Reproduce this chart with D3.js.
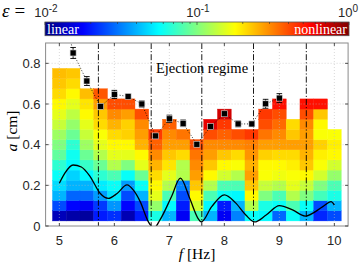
<!DOCTYPE html>
<html><head><meta charset="utf-8">
<script src="https://cdn.jsdelivr.net/npm/d3@7"></script>
<style>body{margin:0;background:#fff}svg{display:block}</style>
</head><body><svg id="c" width="359" height="269"></svg>
<script>
// ---- data ----
const freqs = [5,5.25,5.5,5.75,6,6.25,6.5,6.75,7,7.25,7.5,7.75,8,8.25,8.5,8.75,9,9.25,9.5,9.75,10];
const ampRows = [0.05,0.1,0.15,0.2,0.25,0.3,0.35,0.4,0.45,0.5,0.55,0.6,0.65,0.7,0.75];
// epsilon per column (bottom row upward)
const epsilon = [
 [0.013,0.025,0.04,0.048,0.058,0.069,0.087,0.1,0.115,0.138,0.158,0.182,0.209,0.229,0.24],
 [0.012,0.018,0.028,0.04,0.046,0.055,0.06,0.069,0.091,0.11,0.132,0.158,0.182,0.209,0.229],
 [0.0115,0.017,0.028,0.04,0.055,0.072,0.091,0.115,0.138,0.158,0.182,0.2,0.24],
 [0.02,0.023,0.036,0.052,0.069,0.091,0.126,0.158,0.174,0.209,0.229,0.275,0.38],
 [0.022,0.035,0.05,0.058,0.079,0.126,0.158,0.182,0.209,0.251,0.302,0.398],
 [0.0126,0.018,0.025,0.036,0.058,0.1,0.158,0.182,0.219,0.219,0.275,0.398],
 [0.02,0.025,0.04,0.058,0.091,0.158,0.182,0.251,0.275,0.302,0.398],
 [0.063,0.11,0.158,0.182,0.209,0.251,0.302,0.363,0.437],
 [0.04,0.055,0.079,0.126,0.158,0.2,0.229,0.275,0.302,0.363],
 [0.017,0.02,0.025,0.032,0.126,0.126,0.209,0.275,0.331],
 [0.079,0.145,0.182,0.229,0.275,0.302,0.331,0.398],
 [0.04,0.055,0.079,0.126,0.182,0.229,0.275,0.302,0.398,0.63],
 [0.017,0.02,0.058,0.079,0.145,0.182,0.229,0.302,0.363,0.437,0.692],
 [0.032,0.04,0.055,0.079,0.126,0.174,0.209,0.302,0.398],
 [0.058,0.126,0.182,0.229,0.275,0.251,0.288,0.316,0.437],
 [0.055,0.063,0.1,0.138,0.174,0.182,0.219,0.275,0.331,0.398,0.437],
 [0.028,0.058,0.079,0.126,0.166,0.182,0.209,0.275,0.302,0.347,0.398,0.525],
 [0.058,0.079,0.126,0.158,0.174,0.19,0.209,0.275,0.229,0.209],
 [0.04,0.058,0.1,0.138,0.182,0.229,0.251,0.275,0.275,0.302,0.398,0.525],
 [0.021,0.025,0.076,0.1,0.145,0.174,0.19,0.219,0.174,0.182,0.229,0.525],
 [0.025,0.04,0.063,0.079,0.11,0.145,0.182,0.19,0.174]
];
// measured points with error bars
const measF = [5.0,5.25,5.5,5.75,6,6.25,6.5,6.75,7,7.25,7.5,7.75,8,8.25,8.5,8.75,9];
const measA = [1.19,0.851,0.713,0.588,0.647,0.637,0.6,0.443,0.527,0.505,0.402,0.489,0.552,0.502,0.502,0.601,0.629];
const measErr = [0,0.027,0.022,0.01,0.02,0.01,0.015,0.008,0.018,0.016,0.008,0.01,0.01,0.014,0.012,0.022,0.022];
// solid theoretical curve
const curveF = [5.0,5.1,5.25,5.4,5.56,5.74,5.89,6.05,6.23,6.35,6.47,6.62,6.72,6.83,7.04,7.2,7.37,7.52,7.58,7.77,8.0,8.2,8.39,8.55,8.76,9.0,9.24,9.47,9.79,9.94,10.0];
const curveA = [0.21,0.26,0.3,0.29,0.243,0.161,0.136,0.16,0.202,0.175,0.12,0.02,-0.01,0.03,0.145,0.235,0.136,0.038,0.02,0.095,0.153,0.115,0.054,0.02,0.054,0.1,0.079,0.049,0.095,0.12,0.103];
// dash-dot regime boundaries
const boundF = [5.71,6.67,7.59,8.53,9.49];
const xTicks = [5,6,7,8,9,10];
const yTicks = [0,0.2,0.4,0.6,0.8];
const yTickLabels = ["0","0.2","0.4","0.6","0.8"];
const cbTicks = [0.01,0.1,1];
const cbTickExp = ["-2","-1","0"];

// ---- drawing ----
const svg = d3.select("#c");
svg.append("rect").attr("width",359).attr("height",269).attr("fill","#fff");
const L=45.6,R=348.1,T=43,B=226;
const x = d3.scaleLinear().domain([4.75,10.25]).range([L,R]);
const y = d3.scaleLinear().domain([0,0.9]).range([B,T]);
function jet(t){
  const c=v=>Math.max(0,Math.min(1,v));
  const r=c(1.5-Math.abs(4*t-3)), g=c(1.5-Math.abs(4*t-2)), b=c(1.5-Math.abs(4*t-1));
  return d3.rgb(r*255,g*255,b*255).formatHex();
}
const epsT = d3.scaleLog().domain([0.01,1]).range([0,1]).clamp(true);
const sans = "'Liberation Sans', Arial, Helvetica, sans-serif";
const serif = "'Liberation Serif', 'Times New Roman', serif";
const axCol = "#262626";

const defs = svg.append("defs");
defs.append("clipPath").attr("id","clip").append("rect")
  .attr("x",L).attr("y",T).attr("width",R-L).attr("height",B-T);

// heatmap
const cells=[];
freqs.forEach((f,i)=>epsilon[i].forEach((e,j)=>cells.push({f,a:ampRows[j],e})));
const hw = (x(0.25)-x(0)), hh = (y(0)-y(0.05));
svg.append("g").selectAll("rect").data(cells).join("rect")
  .attr("x",d=>x(d.f-0.125)).attr("y",d=>y(d.a+0.025))
  .attr("width",hw).attr("height",hh)
  .attr("fill",d=>jet(epsT(d.e))).attr("stroke",d=>jet(epsT(d.e))).attr("stroke-width",0.4);

// grid (on top)
const grid = svg.append("g").attr("stroke","#bdbdbd").attr("stroke-width",0.7)
  .attr("stroke-dasharray","1,2").attr("opacity",0.8);
xTicks.forEach(t=>grid.append("line").attr("x1",x(t)).attr("x2",x(t)).attr("y1",T).attr("y2",B));
yTicks.slice(1).forEach(t=>grid.append("line").attr("x1",L).attr("x2",R).attr("y1",y(t)).attr("y2",y(t)));

const plot = svg.append("g").attr("clip-path","url(#clip)");
// dash-dot boundaries
plot.selectAll("line.b").data(boundF).join("line")
  .attr("x1",d=>x(d)).attr("x2",d=>x(d)).attr("y1",T).attr("y2",B)
  .attr("stroke","#000").attr("stroke-width",0.9).attr("stroke-dasharray","6,2,1.2,2");
// solid curve
plot.append("path").datum(curveF.map((f,i)=>[f,curveA[i]]))
  .attr("d",d3.line().x(d=>x(d[0])).y(d=>y(d[1])).curve(d3.curveMonotoneX))
  .attr("fill","none").attr("stroke","#000").attr("stroke-width",1.3);
// dotted connector
const mp = measF.map((f,i)=>({f,a:measA[i],e:measErr[i]}));
plot.append("path").datum(mp)
  .attr("d",d3.line().x(d=>x(d.f)).y(d=>y(d.a)))
  .attr("fill","none").attr("stroke","#000").attr("stroke-width",0.8).attr("stroke-dasharray","1,1.8");
// error bars
const eb = plot.append("g").attr("stroke","#000").attr("stroke-width",0.9);
mp.filter(d=>d.e>0).forEach(d=>{
  eb.append("line").attr("x1",x(d.f)).attr("x2",x(d.f)).attr("y1",y(d.a-d.e)).attr("y2",y(d.a+d.e));
  [d.a-d.e,d.a+d.e].forEach(v=>eb.append("line").attr("x1",x(d.f)-2.8).attr("x2",x(d.f)+2.8).attr("y1",y(v)).attr("y2",y(v)));
});
// squares
plot.selectAll("rect.m").data(mp).join("rect")
  .attr("x",d=>x(d.f)-3).attr("y",d=>y(d.a)-3).attr("width",6).attr("height",6)
  .attr("fill","#000").attr("stroke","#d8d8d8").attr("stroke-width",0.6);

// annotation
svg.append("text").attr("x",202).attr("y",73).attr("text-anchor","middle")
  .attr("font-family",serif).attr("font-size",14.5).attr("fill","#000").text("Ejection regime");

// axes box and ticks
svg.append("rect").attr("x",L).attr("y",T).attr("width",R-L).attr("height",B-T)
  .attr("fill","none").attr("stroke","#8a8a8a").attr("stroke-width",1);
const tk = svg.append("g").attr("stroke",axCol).attr("stroke-width",0.8);
xTicks.forEach(t=>{
  tk.append("line").attr("x1",x(t)).attr("x2",x(t)).attr("y1",B).attr("y2",B-3);
  tk.append("line").attr("x1",x(t)).attr("x2",x(t)).attr("y1",T).attr("y2",T+3);
});
yTicks.forEach(t=>{
  tk.append("line").attr("x1",L).attr("x2",L+3).attr("y1",y(t)).attr("y2",y(t));
  tk.append("line").attr("x1",R).attr("x2",R-3).attr("y1",y(t)).attr("y2",y(t));
});
svg.append("g").selectAll("text").data(xTicks).join("text")
  .attr("x",d=>x(d)).attr("y",244.5).attr("text-anchor","middle")
  .attr("font-family",sans).attr("font-size",13).attr("fill",axCol).text(d=>d);
svg.append("g").selectAll("text").data(yTicks).join("text")
  .attr("x",40.5).attr("y",(d)=>y(d)+4.5).attr("text-anchor","end")
  .attr("font-family",sans).attr("font-size",13).attr("fill",axCol).text((d,i)=>yTickLabels[i]);

// axis labels
const xl = svg.append("text").attr("x",197).attr("y",259).attr("text-anchor","middle")
  .attr("font-family",serif).attr("font-size",15.5).attr("fill","#000");
xl.append("tspan").attr("font-style","italic").text("f");
xl.append("tspan").attr("dx",4).text("[Hz]");
const yl = svg.append("text").attr("transform","translate(16.5,131) rotate(-90)").attr("text-anchor","middle")
  .attr("font-family",serif).attr("font-size",15.5).attr("fill","#000");
yl.append("tspan").attr("font-style","italic").text("a");
yl.append("tspan").attr("dx",4).text("[cm]");

// colorbar
const cbL=45,cbR=349,cbT=22,cbB=35.7;
const cb = d3.scaleLog().domain([0.01,1]).range([cbL,cbR]);
const grad = defs.append("linearGradient").attr("id","jet").attr("x1","0%").attr("x2","100%");
d3.range(0,1.0001,1/32).forEach(t=>grad.append("stop").attr("offset",(t*100)+"%").attr("stop-color",jet(t)));
svg.append("rect").attr("x",cbL).attr("y",cbT).attr("width",cbR-cbL).attr("height",cbB-cbT)
  .attr("fill","url(#jet)").attr("stroke","#555").attr("stroke-width",0.8);
const minor=[];
[0.01,0.1].forEach(dec=>d3.range(2,10).forEach(k=>minor.push(dec*k)));
const cbt = svg.append("g").attr("stroke","#333").attr("stroke-width",0.6);
minor.forEach(v=>cbt.append("line").attr("x1",cb(v)).attr("x2",cb(v)).attr("y1",cbT).attr("y2",cbT+2));
cbTicks.forEach(v=>cbt.append("line").attr("x1",cb(v)).attr("x2",cb(v)).attr("y1",cbT).attr("y2",cbT+3));
cbTicks.forEach((v,i)=>{
  const t = svg.append("text").attr("x",cb(v)+(i===2?-1:1)).attr("y",17).attr("text-anchor","middle")
    .attr("font-family",sans).attr("font-size",13).attr("fill",axCol);
  t.append("tspan").text("10");
  t.append("tspan").attr("font-size",10).attr("dy",-5.5).text(cbTickExp[i]);
});
svg.append("text").attr("x",47).attr("y",33.5).attr("font-family",serif).attr("font-size",14)
  .attr("fill","#fff").text("linear");
svg.append("text").attr("x",347).attr("y",33.5).attr("text-anchor","end").attr("font-family",serif)
  .attr("font-size",14).attr("fill","#fff").text("nonlinear");
const eq = svg.append("text").attr("x",2).attr("y",17).attr("font-family",serif).attr("font-size",19).attr("fill","#000");
eq.append("tspan").attr("font-style","italic").text("\u03B5");
eq.append("tspan").attr("dx",5).text("=");
</script></body></html>
